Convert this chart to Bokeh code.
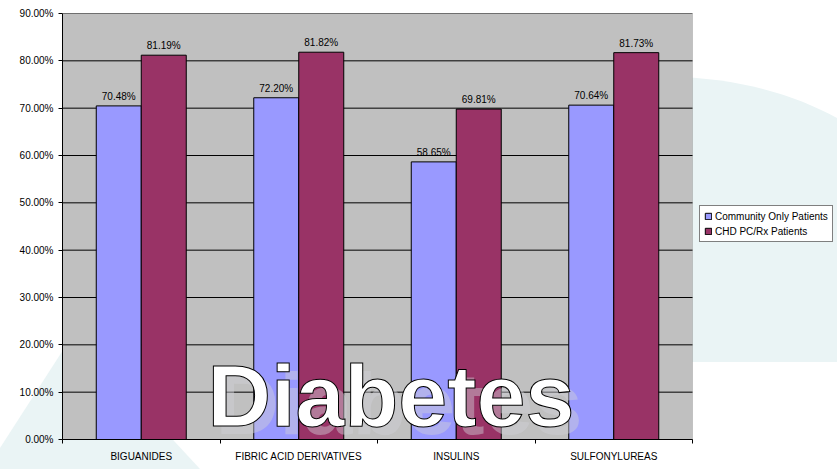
from urllib.parse import quote

from bokeh.core.properties import value
from bokeh.embed import file_html
from bokeh.models import (BoxAnnotation, ColumnDataSource, FixedTicker, Label,
                          LabelSet, Legend, LegendItem, NumeralTickFormatter, Range1d)
from bokeh.plotting import figure
from bokeh.resources import INLINE
from bokeh.transform import dodge

# ---- data -------------------------------------------------------------
categories = ["BIGUANIDES", "FIBRIC ACID DERIVATIVES", "INSULINS", "SULFONYLUREAS"]
community_only = [0.7048, 0.7220, 0.5865, 0.7064]
chd_pc_rx = [0.8119, 0.8182, 0.6981, 0.8173]
series_names = ["Community Only Patients", "CHD PC/Rx Patients"]
y_ticks = [0.0, 0.1, 0.2, 0.3, 0.4, 0.5, 0.6, 0.7, 0.8, 0.9]
title_text = "Diabetes"

# ---- styling ----------------------------------------------------------
FONT = "Liberation Sans"
TITLE_FONT = "Liberation Sans"
BLUE = "#9999FF"
MAROON = "#993366"
PLOT_GRAY = "#C0C0C0"
SWOOSH = "#EAF4F5"

W, H = 837, 469
LEFT, TOP, BOTTOM = 62, 13, 30
PLOT_AREA_W = 630          # pixels taken by the category slots
n = len(categories)
centers = [i + 0.5 for i in range(n)]
bar_w = 1 / 3.5            # two bars plus a 150% gap per category
x_end = n * (W - LEFT) / PLOT_AREA_W   # frame also holds the legend strip

src = ColumnDataSource(dict(
    x=centers,
    community=community_only,
    chd=chd_pc_rx,
    community_lbl=[f"{v * 100:.2f}%" for v in community_only],
    chd_lbl=[f"{v * 100:.2f}%" for v in chd_pc_rx],
))

p = figure(width=W, height=H, output_backend="svg", toolbar_location=None,
           x_range=Range1d(0, x_end), y_range=Range1d(0, y_ticks[-1]),
           min_border_left=LEFT, min_border_right=0, min_border_top=TOP,
           min_border_bottom=BOTTOM)

p.background_fill_color = None
p.border_fill_color = None
p.outline_line_color = None

# decorative light swooshes behind the chart
bg_svg = (
    f'<svg xmlns="http://www.w3.org/2000/svg" width="{W}" height="{H}">'
    f'<path d="M0,448 L74,333 L200,469 L0,469 Z" fill="{SWOOSH}"/>'
    f'<path d="M640,78 C720,72 790,92 837,118 L837,362 L640,362 Z" fill="{SWOOSH}"/>'
    '</svg>'
)
p.styles = {
    "background-image": f'url("data:image/svg+xml,{quote(bg_svg)}")',
    "background-repeat": "no-repeat",
}

# gray plot area covering the category slots only
p.add_layout(BoxAnnotation(left=0, right=n, bottom=0, top=y_ticks[-1],
                           fill_color=PLOT_GRAY, fill_alpha=1,
                           line_color="#808080", line_width=1, level="underlay"))

# horizontal gridlines across the plot area
p.segment(x0=[0] * len(y_ticks), x1=[n] * len(y_ticks), y0=y_ticks, y1=y_ticks,
          line_color="black", line_width=1)
p.xgrid.visible = False
p.ygrid.visible = False

# ---- bars ---------------------------------------------------------------
r1 = p.vbar(x=dodge("x", -bar_w / 2), top="community", width=bar_w, source=src,
            fill_color=BLUE, line_color="black", line_width=1)
r2 = p.vbar(x=dodge("x", bar_w / 2), top="chd", width=bar_w, source=src,
            fill_color=MAROON, line_color="black", line_width=1)

for col, lbl, off in (("community", "community_lbl", -bar_w / 2),
                      ("chd", "chd_lbl", bar_w / 2)):
    p.add_layout(LabelSet(x=dodge("x", off), y=col, text=lbl, source=src,
                          text_align="center", text_baseline="alphabetic",
                          y_offset=6, text_font=value(FONT),
                          text_font_size="10px", text_color="black"))

# ---- axes ---------------------------------------------------------------
yax = p.yaxis[0]
yax.ticker = FixedTicker(ticks=y_ticks)
yax.formatter = NumeralTickFormatter(format="0.00%")
yax.major_tick_in = 0
yax.major_tick_out = 4
yax.minor_tick_line_color = None
yax.axis_line_color = "black"
yax.major_tick_line_color = "black"
yax.major_label_standoff = 5
yax.major_label_text_font = FONT
yax.major_label_text_font_size = "10px"
yax.major_label_text_color = "black"

xax = p.xaxis[0]
xax.bounds = (0, n)
xax.ticker = FixedTicker(ticks=centers, minor_ticks=list(range(n + 1)))
xax.major_label_overrides = {c: name for c, name in zip(centers, categories)}
xax.major_tick_in = 0
xax.major_tick_out = 0
xax.minor_tick_in = 0
xax.minor_tick_out = 4
xax.minor_tick_line_color = "black"
xax.axis_line_color = "black"
xax.major_label_standoff = 7
xax.major_label_text_font = FONT
xax.major_label_text_font_size = "10px"
xax.major_label_text_color = "black"

# ---- legend ---------------------------------------------------------------
legend = Legend(items=[LegendItem(label=series_names[0], renderers=[r1]),
                       LegendItem(label=series_names[1], renderers=[r2])],
                location=(637, 197), orientation="vertical")
legend.border_line_color = "black"
legend.border_line_width = 1
legend.background_fill_color = "white"
legend.background_fill_alpha = 1
legend.label_text_font = FONT
legend.label_text_font_size = "10px"
legend.label_text_color = "black"
legend.glyph_width = 8
legend.glyph_height = 8
legend.label_height = 12
legend.label_standoff = 3
legend.padding = 4
legend.spacing = 3
legend.margin = 0
p.add_layout(legend)

# ---- big title over the bars ------------------------------------------------
ghost = Label(x=0.972, y=0.0761, text=title_text,
              text_font=TITLE_FONT, text_font_style="bold", text_font_size="88px",
              text_color="#D0D0D8", text_alpha=0.45, text_baseline="alphabetic")
p.add_layout(ghost)
title = Label(x=0.921, y=0.093, text=title_text,
              text_font=TITLE_FONT, text_font_style="bold", text_font_size="88px",
              text_color="white", text_outline_color="black",
              text_baseline="alphabetic")
p.add_layout(title)

open("out.html", "w").write(file_html(p, INLINE))
